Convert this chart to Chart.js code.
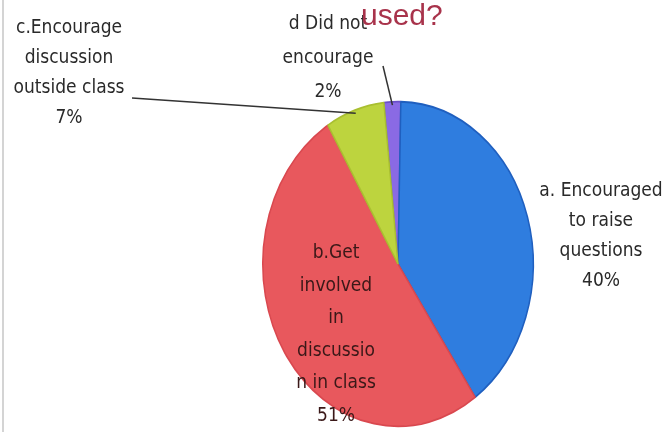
<!DOCTYPE html>
<html>
<head>
<meta charset="utf-8">
<script src="https://cdn.jsdelivr.net/npm/chart.js@4.4.0/dist/chart.umd.min.js"></script>
<style>
  html, body { margin: 0; padding: 0; background: #fff; }
  #wrap { width: 669px; height: 432px; position: relative; }
</style>
</head>
<body>
<div id="wrap"><canvas id="pieChart" width="669" height="432"></canvas></div>
<script>
// order is clockwise from the top
const categories = ['d. Did not encourage', 'a. Encouraged to raise questions', 'b.Get involved in discussion in class', 'c. Encourage discussion outside class'];
const percents = [2, 40, 51, 7];
const sliceColors = ['#8a6ae4', '#2f7ddf', '#e8585d', '#bdd43e'];
const edgeColors = ['#6a4fc8', '#1f5fbf', '#d9484f', '#a9bf30'];
const labelLines = [
  ['d Did not', 'encourage'],
  ['a. Encouraged', 'to raise', 'questions'],
  ['b.Get', 'involved', 'in', 'discussio', 'n in class'],
  ['c.Encourage', 'discussion', 'outside class']
];

const squash = 1.2; // the pie in the picture is an upright ellipse

const ellipsePlugin = {
  id: 'ellipse',
  beforeDatasetsDraw(chart) {
    const a = chart.chartArea;
    const cx = (a.left + a.right) / 2, cy = (a.top + a.bottom) / 2;
    chart.ctx.save();
    chart.ctx.translate(cx, cy);
    chart.ctx.scale(1, squash);
    chart.ctx.translate(-cx, -cy);
  },
  afterDatasetsDraw(chart) {
    chart.ctx.restore();
  }
};

// where each label block sits: centre x, first baseline, line step
const labelPos = [
  { x: 328, y: 29, step: 34 },
  { x: 601, y: 196, step: 30 },
  { x: 336, y: 258, step: 32.5 },
  { x: 69, y: 33, step: 30 }
];

const labelPlugin = {
  id: 'labels',
  afterDraw(chart) {
    const ctx = chart.ctx;
    const arcs = chart.getDatasetMeta(0).data;
    const cx = arcs[0].x, cy = arcs[0].y;
    ctx.save();

    // faint slide edge on the left
    ctx.strokeStyle = '#d4d4d4';
    ctx.lineWidth = 2;
    ctx.beginPath();
    ctx.moveTo(3, 0);
    ctx.lineTo(3, 432);
    ctx.stroke();

    ctx.font = '19px "Liberation Sans Narrow", "DejaVu Sans Condensed", sans-serif';
    ctx.textAlign = 'center';
    ctx.textBaseline = 'alphabetic';
    labelLines.forEach((lines, i) => {
      const p = labelPos[i];
      const all = lines.concat([percents[i] + '%']);
      ctx.fillStyle = i === 2 ? '#3a1818' : '#2a2a2a';
      all.forEach((t, k) => ctx.fillText(t, p.x, p.y + k * p.step));
    });

    // leader lines for the two small slices
    const edgePoint = (i) => {
      const arc = arcs[i];
      const mid = (arc.startAngle + arc.endAngle) / 2;
      return {
        x: cx + Math.cos(mid) * arc.outerRadius * 0.98,
        y: cy + Math.sin(mid) * arc.outerRadius * 0.98 * squash
      };
    };
    ctx.strokeStyle = '#333';
    ctx.lineWidth = 1.5;
    let e = edgePoint(3);
    ctx.beginPath();
    ctx.moveTo(132, 98);
    ctx.lineTo(e.x, e.y);
    ctx.stroke();
    e = edgePoint(0);
    ctx.beginPath();
    ctx.moveTo(383, 66);
    ctx.lineTo(e.x, e.y);
    ctx.stroke();

    // title fragment left over at the top of the slide
    ctx.font = '30px "Liberation Sans", sans-serif';
    ctx.textAlign = 'left';
    ctx.fillStyle = '#a8334b';
    ctx.fillText('used?', 361, 25);
    ctx.restore();
  }
};

new Chart(document.getElementById('pieChart'), {
  type: 'pie',
  data: {
    labels: categories,
    datasets: [{
      data: percents,
      backgroundColor: sliceColors,
      borderColor: edgeColors,
      borderWidth: 1.5
    }]
  },
  options: {
    responsive: false,
    animation: false,
    rotation: -6,
    layout: { padding: { left: 262, right: 135, top: 128, bottom: 32 } },
    plugins: {
      legend: { display: false },
      tooltip: { enabled: false }
    }
  },
  plugins: [ellipsePlugin, labelPlugin]
});
</script>
</body>
</html>
